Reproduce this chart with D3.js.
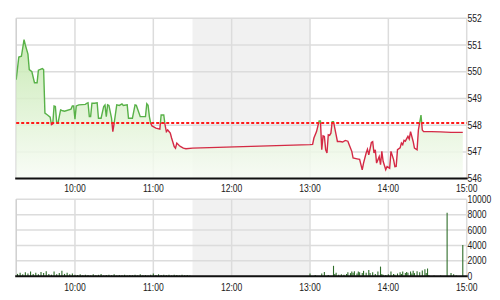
<!DOCTYPE html>
<html><head><meta charset="utf-8">
<script src="https://cdn.jsdelivr.net/npm/d3@7"></script>
<style>html,body{margin:0;padding:0;background:#fff;}svg{display:block;font-family:"Liberation Sans",Arial,sans-serif;}</style>
</head><body><div id="chart"></div>
<script>
// ---- data ----
const priceTimes = ["9:15","9:17","9:19","9:21","9:22","9:24","9:25","9:27","9:29","9:31","9:32","9:35","9:36","9:37","9:39","9:41","9:42","9:43","9:44","9:45","9:46","9:47","9:49","9:50","9:52","9:57","9:58","9:59","10:00","10:01","10:03","10:08","10:09","10:10","10:11","10:12","10:13","10:15","10:17","10:18","10:20","10:22","10:23","10:24","10:25","10:26","10:28","10:29","10:30","10:32","10:34","10:36","10:37","10:40","10:41","10:44","10:46","10:47","10:50","10:51","10:54","10:55","10:56","10:57","10:58","10:59","11:02","11:05","11:06","11:08","11:09","11:10","11:11","11:13","11:14","11:16","11:17","11:18","11:20","11:21","11:23","11:25","11:30",
"13:00","13:02","13:03","13:05","13:07","13:08","13:09","13:10","13:11","13:12","13:13","13:14","13:15","13:16","13:17","13:18","13:20","13:21","13:23","13:25","13:27","13:29","13:30","13:32","13:33","13:36","13:38","13:39","13:40","13:41","13:43","13:44","13:45","13:47","13:48","13:49","13:50","13:51","13:53","13:54","13:55","13:56","13:58","13:59","14:01","14:02","14:04","14:05","14:06","14:07","14:09","14:10","14:11","14:12","14:13","14:15","14:16","14:17","14:19","14:20","14:22","14:23","14:25","14:26","14:27","14:33","14:40","14:48","14:57"];
const priceValues = [549.70,550.55,550.58,551.20,551.00,550.66,550.08,550.00,549.59,549.59,550.06,550.12,550.08,548.45,548.38,548.30,548.02,548.05,548.72,548.70,548.10,548.08,548.57,548.55,548.52,548.60,548.72,548.72,548.22,548.72,548.76,548.78,548.82,548.84,548.32,548.32,548.82,548.82,548.84,548.26,548.26,548.70,548.76,548.32,548.76,548.74,548.26,547.76,548.07,548.76,548.74,548.80,548.74,548.76,548.26,548.26,548.76,548.74,548.32,548.32,548.32,548.80,548.74,548.32,548.07,547.97,547.89,547.85,548.38,548.38,548.01,547.76,547.82,547.70,547.52,547.20,547.14,547.33,547.23,547.20,547.14,547.12,547.14,
547.27,547.28,547.52,547.76,548.16,548.16,547.08,547.60,547.58,547.08,546.96,547.64,547.62,547.70,548.13,548.13,547.64,547.39,547.39,547.37,547.43,547.40,547.27,547.02,546.77,546.74,546.72,546.52,546.33,546.58,546.96,547.10,546.89,547.35,547.38,546.96,547.08,546.58,546.82,546.52,547.02,546.65,546.33,546.45,546.39,547.02,546.71,546.45,546.46,547.08,547.15,547.33,547.27,547.43,547.40,547.58,547.48,547.76,547.39,547.14,547.08,547.82,548.38,547.82,547.76,547.76,547.75,547.73,547.73];
const prevClose = 548.08;

const volumeTimes = ["9:16","9:18","9:20","9:22","9:24","9:26","9:28","9:30","9:32","9:34","9:36","9:38","9:40","9:42","9:44","9:46","9:48","9:50","9:52","9:54","9:56","9:58","10:00","10:02","10:04","10:06","10:08","10:10","10:12","10:14","10:16","10:18","10:20","10:22","10:24","10:26","10:28","10:30","10:32","10:34","10:36","10:38","10:40","10:42","10:44","10:46","10:48","10:50","10:52","10:54","10:56","10:58","11:00","11:02","11:04","11:06","11:08","11:10","11:12","11:14","11:16","11:18","11:20","11:22","11:24","11:26","11:28",
"13:00","13:04","13:09","13:11","13:14","13:18","13:19","13:20","13:22","13:24","13:26","13:28","13:29","13:31","13:32","13:33","13:34","13:36","13:37","13:38","13:40","13:41","13:43","13:45","13:46","13:48","13:50","13:52","13:54","13:55","13:56","13:58","14:00","14:02","14:04","14:05","14:07","14:09","14:10","14:11","14:13","14:14","14:15","14:17","14:18","14:19","14:20","14:22","14:24","14:26","14:28","14:29","14:30","14:31","14:35","14:40","14:45","14:48","14:50","14:52","14:57"];
const volumeValues = [300,450,250,500,350,600,300,450,250,550,400,650,300,200,600,250,400,700,300,450,250,350,200,150,250,120,200,150,100,250,120,180,300,100,150,200,120,250,100,150,120,200,100,150,120,200,100,250,120,150,100,200,350,150,250,150,200,120,180,100,200,150,100,180,120,150,100,
350,150,350,550,150,1350,300,450,200,250,200,300,500,400,600,450,650,350,600,500,400,700,450,800,400,500,300,600,1250,300,200,150,250,600,300,200,350,500,300,600,400,550,450,600,350,700,400,650,500,750,900,400,1000,150,100,100,8250,400,250,100,4050];

const timeTicks = ["10:00","11:00","12:00","13:00","14:00","15:00"];
const priceTicks = [546,547,548,549,550,551,552];
const volumeTicks = [0,2000,4000,6000,8000,10000];
const lunchBreak = ["11:30","13:00"];
const timeDomain = ["9:15","15:00"];

// ---- drawing ----
const parse = d3.timeParse("%H:%M");
const W = 500, H = 300;
const svg = d3.select("#chart").append("svg").attr("width", W).attr("height", H);

const x = d3.scaleTime().domain(timeDomain.map(parse)).range([16.2, 466.7]);
const y = d3.scaleLinear().domain([546, 552]).range([178.6, 18.3]);
const yv = d3.scaleLinear().domain([0, 10000]).range([276.2, 199.3]);

const prices = priceTimes.map((t, i) => ({t: parse(t), v: priceValues[i]}));
const vols = volumeTimes.map((t, i) => ({t: parse(t), v: volumeValues[i]}));

const defs = svg.append("defs");
const grad = defs.append("linearGradient").attr("id", "gfill").attr("x1", 0).attr("x2", 0)
  .attr("gradientUnits", "userSpaceOnUse").attr("y1", y(552)).attr("y2", y(546));
grad.append("stop").attr("offset", "0%").attr("stop-color", "#b7e49c");
grad.append("stop").attr("offset", "55%").attr("stop-color", "#dcf1cf");
grad.append("stop").attr("offset", "100%").attr("stop-color", "#f8fcf5");

defs.append("clipPath").attr("id", "above").append("rect")
  .attr("x", x.range()[0]).attr("width", x.range()[1] - x.range()[0])
  .attr("y", 0).attr("height", y(prevClose));
defs.append("clipPath").attr("id", "below").append("rect")
  .attr("x", x.range()[0]).attr("width", x.range()[1] - x.range()[0])
  .attr("y", y(prevClose)).attr("height", 200);

const textStyle = sel => sel.attr("font-size", 10).attr("fill", "#1a1a1a");

function panel(yScale, ticks, fmt) {
  const g = svg.append("g");
  const [yb, yt] = yScale.range();
  g.append("rect").attr("x", x(parse(lunchBreak[0]))).attr("width", x(parse(lunchBreak[1])) - x(parse(lunchBreak[0])))
    .attr("y", yt).attr("height", yb - yt).attr("fill", "#f1f1f1");
  g.selectAll("line.h").data(ticks).join("line")
    .attr("x1", x.range()[0]).attr("x2", x.range()[1])
    .attr("y1", d => yScale(d)).attr("y2", d => yScale(d))
    .attr("stroke", "#dcdcdc").attr("stroke-width", 1.5);
  g.selectAll("line.v").data(timeTicks).join("line")
    .attr("x1", d => x(parse(d))).attr("x2", d => x(parse(d)))
    .attr("y1", yt).attr("y2", yb)
    .attr("stroke", "#dcdcdc").attr("stroke-width", 1.5);
  g.append("line").attr("x1", x.range()[0]).attr("x2", x.range()[0]).attr("y1", yt).attr("y2", yb)
    .attr("stroke", "#cfcfcf").attr("stroke-width", 1.5);
  g.selectAll("text.y").data(ticks).join("text")
    .attr("transform", d => `translate(467.5,${yScale(d) + 3.5}) scale(0.86,1)`)
    .text(fmt).call(textStyle);
  return g;
}

function bottomAxis(yPos, labelY) {
  svg.append("line").attr("x1", x.range()[0] - 1).attr("x2", x.range()[1] + 1)
    .attr("y1", yPos).attr("y2", yPos).attr("stroke", "#111").attr("stroke-width", 2);
  svg.append("g").selectAll("text").data(timeTicks).join("text")
    .attr("transform", d => `translate(${x(parse(d))},${labelY}) scale(0.86,1)`)
    .attr("text-anchor", "middle").text(d => d).call(textStyle);
}

// ---- price panel ----
panel(y, priceTicks, d => d);

const area = d3.area().x(d => x(d.t)).y0(y(546)).y1(d => y(d.v));
svg.append("path").datum(prices).attr("d", area).attr("fill", "url(#gfill)").attr("fill-opacity", 0.85);

const line = d3.line().x(d => x(d.t)).y(d => y(d.v));
svg.append("path").datum(prices).attr("d", line).attr("fill", "none")
  .attr("stroke", "#58b148").attr("stroke-width", 1.4).attr("clip-path", "url(#above)");
svg.append("path").datum(prices).attr("d", line).attr("fill", "none")
  .attr("stroke", "#d42a45").attr("stroke-width", 1.4).attr("clip-path", "url(#below)");

svg.append("line").attr("x1", x.range()[0]).attr("x2", x.range()[1])
  .attr("y1", y(prevClose)).attr("y2", y(prevClose))
  .attr("stroke", "#ff1a1a").attr("stroke-width", 2).attr("stroke-dasharray", "3,2");

bottomAxis(y(546), 192);

// ---- volume panel ----
panel(yv, volumeTicks, d => d);
svg.append("g").selectAll("line").data(vols).join("line")
  .attr("x1", d => x(d.t)).attr("x2", d => x(d.t))
  .attr("y1", yv(0)).attr("y2", d => yv(d.v))
  .attr("stroke", "#2f6e2a").attr("stroke-width", 1.1);
bottomAxis(yv(0), 291);
</script></body></html>
